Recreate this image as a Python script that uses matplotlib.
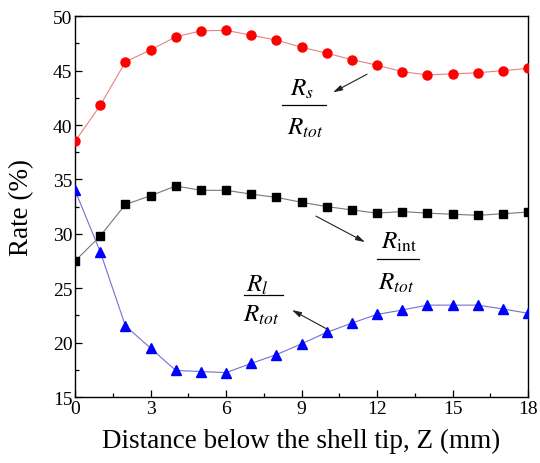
import matplotlib
matplotlib.use("Agg")
import matplotlib.pyplot as plt
from matplotlib.lines import Line2D
from matplotlib.ticker import MultipleLocator

plt.rcParams["font.family"] = ["Liberation Serif", "DejaVu Serif"]
plt.rcParams["mathtext.fontset"] = "stix"

z = list(range(19))
rs_ratio = [38.5, 41.8, 45.8, 46.9, 48.1, 48.65, 48.7, 48.25, 47.8, 47.15,
            46.6, 46.0, 45.5, 44.9, 44.6, 44.7, 44.8, 45.0, 45.2]
rint_ratio = [27.5, 29.8, 32.7, 33.5, 34.4, 34.0, 34.0, 33.65, 33.35, 32.9,
              32.5, 32.2, 31.9, 32.05, 31.9, 31.8, 31.7, 31.85, 32.0]
rl_ratio = [34.0, 28.35, 21.55, 19.5, 17.45, 17.35, 17.25, 18.1, 18.9, 19.9,
            20.95, 21.8, 22.6, 23.0, 23.45, 23.45, 23.45, 23.1, 22.7]

fig = plt.figure(figsize=(5.4, 4.64), dpi=100)
ax = fig.add_axes([0.139, 0.142, 0.839, 0.821])

ax.plot(z, rs_ratio, color="#e88080", lw=0.8, marker="o", ms=6.5,
        mfc="#ff0000", mec="#ff0000", zorder=3)
ax.plot(z, rint_ratio, color="#777777", lw=0.8, marker="s", ms=5.5,
        mfc="black", mec="black", zorder=3)
ax.plot(z, rl_ratio, color="#7070d0", lw=0.8, marker="^", ms=7,
        mfc="#0000ff", mec="#0000ff", zorder=3)

ax.set_xlim(0, 18)
ax.set_ylim(15, 50)
ax.xaxis.set_major_locator(MultipleLocator(3))
ax.xaxis.set_minor_locator(MultipleLocator(1.5))
ax.yaxis.set_major_locator(MultipleLocator(5))
ax.yaxis.set_minor_locator(MultipleLocator(2.5))
ax.tick_params(which="both", direction="in", top=False, right=False,
               labelsize=14, pad=2)
ax.tick_params(which="major", length=5, width=0.9)
ax.tick_params(which="minor", length=3, width=0.9)
for s in ax.spines.values():
    s.set_linewidth(1.0)

ax.set_xlabel("Distance below the shell tip, Z (mm)", fontsize=19.5, labelpad=8)
ax.set_ylabel("Rate (%)", fontsize=19.5, labelpad=13)


def fraction(num, x_text, y_num, y_line, y_den, x0, x1):
    ax.text(x_text, y_num, num, fontsize=18, ha="left", va="baseline")
    ax.add_line(Line2D([x0, x1], [y_line, y_line], color="black", lw=0.9))
    ax.text(x_text - 0.12, y_den, r"$R_{tot}$", fontsize=18, ha="left",
            va="baseline")


arrow = dict(arrowstyle="-|>,head_length=0.55,head_width=0.16",
             color="#222222", lw=0.8, shrinkA=0, shrinkB=0)

fraction(r"$R_s$", 8.54, 42.83, 41.8, 39.16, 8.22, 9.97)
ax.annotate("", xy=(10.25, 43.0), xytext=(11.6, 44.67), arrowprops=arrow)

fraction(r"$R_{\mathrm{int}}$", 12.14, 28.69, 27.68, 24.92, 12.0, 13.66)
ax.annotate("", xy=(11.52, 29.24), xytext=(9.57, 31.63), arrowprops=arrow)

fraction(r"$R_l$", 6.8, 24.78, 24.37, 21.98, 6.71, 8.26)
ax.annotate("", xy=(8.62, 23.0), xytext=(10.01, 21.25), arrowprops=arrow)

fig.savefig("out.png", dpi=100)
